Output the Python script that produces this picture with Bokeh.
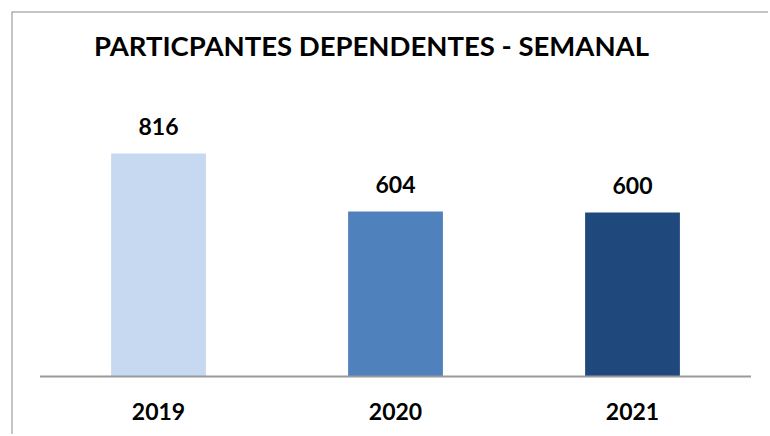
from bokeh.plotting import figure
from bokeh.models import Range1d, Span, Label, ColumnDataSource
from bokeh.embed import file_html
from bokeh.resources import INLINE
from bokeh.core.properties import value

title_text = "PARTICPANTES DEPENDENTES - SEMANAL"
categories = ["2019", "2020", "2021"]
counts = [816, 604, 600]
colors = ["#C6D9F1", "#4F81BD", "#1F497D"]

xs = list(range(len(categories)))
src = ColumnDataSource(dict(x=xs, top=counts, label=[str(v) for v in counts],
                            cat=categories, color=colors, zero=[0] * len(xs)))

x_start, x_end = -0.6203, 2.5738
y_start, y_end = -212.2, 1335.5

p = figure(width=768, height=434, output_backend="svg", toolbar_location=None,
           x_range=Range1d(x_start, x_end), y_range=Range1d(y_start, y_end),
           min_border_left=11, min_border_top=11, min_border_right=0, min_border_bottom=0)
p.axis.visible = False
p.grid.visible = False
p.outline_line_color = None
p.background_fill_color = "white"
p.border_fill_color = "white"

p.vbar(x="x", top="top", bottom=0, width=0.4, color="color", line_color=None, source=src)

# baseline axis line
p.segment(x0=[-0.5], x1=[len(categories) - 0.5], y0=[0], y1=[0], line_color="#9a9a9a", line_width=2)

font = value("Lato")
p.text(x="x", y="top", text="label", source=src, text_align="center", text_baseline="alphabetic",
       y_offset=-27, text_font=font, text_font_style="bold", text_font_size="23px", text_color="black")
p.text(x="x", y="zero", text="cat", source=src, text_align="center", text_baseline="alphabetic",
       y_offset=35, text_font=font, text_font_style="bold", text_font_size="23px", text_color="black")

p.add_layout(Label(x=360, y=389, x_units="screen", y_units="screen", text=title_text,
                   text_align="center", text_baseline="alphabetic", text_font="Lato",
                   text_font_style="bold", text_font_size="27.5px", text_color="black"))

# chart border (left and top edges)
p.add_layout(Span(location=x_start, dimension="height", line_color="#8c8c8c", line_width=2))
p.add_layout(Span(location=y_end, dimension="width", line_color="#8c8c8c", line_width=2))

open("out.html", "w").write(file_html(p, INLINE))
